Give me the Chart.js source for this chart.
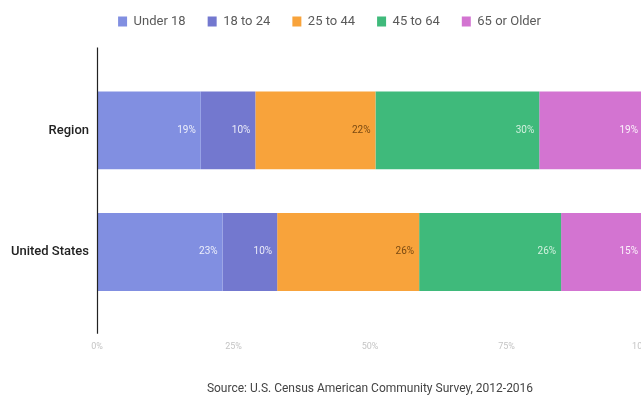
<!DOCTYPE html>
<html>
<head>
<meta charset="utf-8">
<script src="https://cdn.jsdelivr.net/npm/chart.js@4"></script>
<style>
  html, body { margin: 0; padding: 0; background: #fff; overflow: hidden; }
  #wrap { width: 660px; height: 398px; }
</style>
</head>
<body>
<div id="wrap"><canvas id="ageChart" width="660" height="398"></canvas></div>
<script>
// Age distribution data (percent of population)
const categories = ['Region', 'United States'];
const ageGroups = ['Under 18', '18 to 24', '25 to 44', '45 to 64', '65 or Older'];
const under18 = [19, 23];
const age18to24 = [10, 10];
const age25to44 = [22, 26];
const age45to64 = [30, 26];
const age65plus = [19, 15];
const xTicks = [0, 25, 50, 75, 100];
const sourceNote = 'Source: U.S. Census American Community Survey, 2012-2016';

const colors = ['#818fe1', '#7378cf', '#f8a33b', '#3fba7b', '#d374d1'];
const labelColors = ['rgba(255,255,255,0.85)', 'rgba(255,255,255,0.85)', '#7a4a12', 'rgba(235,250,240,0.85)', 'rgba(255,255,255,0.9)'];
const series = [under18, age18to24, age25to44, age45to64, age65plus];

// push the plot area down below the legend, and nudge the legend into place
const legendGap = {
  id: 'legendGap',
  beforeInit(chart) {
    const lg = chart.legend;
    const origFit = lg.fit;
    lg.fit = function () {
      origFit.bind(lg)();
      this.height += 21.5;
    };
    const origDraw = lg.draw;
    lg.draw = function () {
      chart.ctx.save();
      chart.ctx.translate(8, -10);
      origDraw.bind(lg)();
      chart.ctx.restore();
    };
  }
};

// long y axis line and the value labels inside each segment
const extras = {
  id: 'extras',
  afterDatasetsDraw(chart) {
    const c = chart.ctx;
    const area = chart.chartArea;
    c.save();
    c.strokeStyle = '#222';
    c.lineWidth = 1.2;
    c.beginPath();
    c.moveTo(area.left + 0.5, area.top - 22);
    c.lineTo(area.left + 0.5, area.bottom + 21);
    c.stroke();

    c.font = '10px Roboto';
    c.textAlign = 'right';
    c.textBaseline = 'middle';
    chart.data.datasets.forEach((ds, i) => {
      chart.getDatasetMeta(i).data.forEach((bar, j) => {
        c.fillStyle = labelColors[i];
        c.fillText(ds.data[j] + '%', bar.x - 5, bar.y);
      });
    });
    c.restore();
  }
};

const ctx = document.getElementById('ageChart').getContext('2d');
const ageChart = new Chart(ctx, {
  type: 'bar',
  data: {
    labels: categories,
    datasets: ageGroups.map((g, i) => ({
      label: g,
      data: series[i],
      backgroundColor: colors[i],
      borderWidth: 0,
      barPercentage: 0.8,
      categoryPercentage: 0.8
    }))
  },
  options: {
    indexAxis: 'y',
    responsive: false,
    animation: false,
    layout: { padding: { top: 3, right: 17, bottom: 2, left: 0 } },
    plugins: {
      legend: {
        position: 'top',
        labels: {
          boxWidth: 9,
          boxHeight: 10,
          padding: 22,
          color: '#5a5a5a',
          font: { family: 'Roboto', size: 13 }
        }
      },
      tooltip: { enabled: false }
    },
    scales: {
      x: {
        stacked: true,
        min: 0,
        max: 100,
        afterBuildTicks: axis => { axis.ticks = xTicks.map(v => ({ value: v })); },
        afterFit: axis => { axis.paddingLeft = 0; axis.paddingRight = 0; },
        grid: { display: false },
        border: { display: false },
        ticks: {
          padding: 21,
          color: '#c4c4c4',
          font: { family: 'Roboto', size: 9 },
          callback: v => v + '%'
        },
        title: {
          display: true,
          text: sourceNote,
          color: '#444',
          padding: { top: 8, bottom: 0 },
          font: { family: 'Roboto', size: 12 }
        }
      },
      y: {
        stacked: true,
        afterFit: axis => { axis.width = 97; },
        grid: { display: false },
        border: { display: false },
        ticks: {
          padding: 0,
          color: '#222',
          font: { family: 'Roboto', size: 13, weight: 500 }
        }
      }
    }
  },
  plugins: [legendGap, extras]
});
</script>
</body>
</html>
